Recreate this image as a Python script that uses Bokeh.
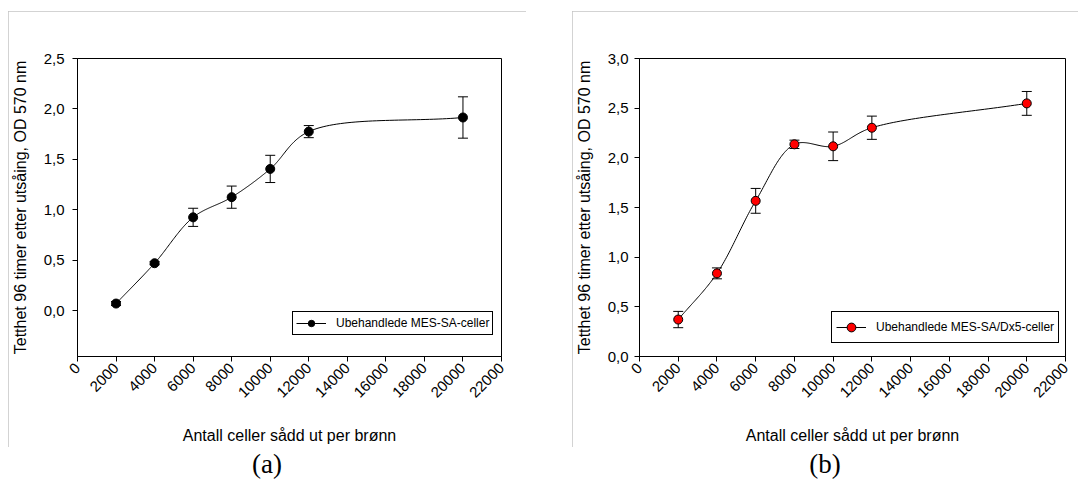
import math
import numpy as np
from bokeh.plotting import figure
from bokeh.models import (Range1d, FixedTicker, CustomJSTickFormatter, BasicTickFormatter,
                          ColumnDataSource, Whisker, TeeHead, Legend, LegendItem, Div)
from bokeh.layouts import row, column
from bokeh.embed import file_html
from bokeh.resources import INLINE

# ---------------- data ----------------
cells = [2000, 4000, 6000, 8000, 10000, 12000, 20000]
mes_sa = [0.07, 0.47, 0.925, 1.125, 1.405, 1.775, 1.915]
mes_sa_err = [0.02, 0.015, 0.09, 0.11, 0.135, 0.06, 0.205]
dx5 = [0.372, 0.837, 1.567, 2.136, 2.116, 2.303, 2.548]
dx5_err = [0.082, 0.055, 0.125, 0.042, 0.144, 0.117, 0.12]

x_ticks = list(range(0, 22001, 2000))
y_ticks_a = [0.0, 0.5, 1.0, 1.5, 2.0, 2.5]
y_ticks_b = [0.0, 0.5, 1.0, 1.5, 2.0, 2.5, 3.0]

label_a = "Ubehandlede MES-SA-celler"
label_b = "Ubehandlede MES-SA/Dx5-celler"
x_title = "Antall celler sådd ut per brønn"
y_title = "Tetthet 96 timer etter utsåing, OD 570 nm"

FONT = "Liberation Sans"


def catmull_rom(xs, ys, sx, sy, n=40, alpha=0.5):
    """Centripetal Catmull-Rom curve through the data points, computed in screen-like space."""
    P = np.column_stack([np.asarray(xs, float) * sx, np.asarray(ys, float) * sy])
    pts = np.vstack([2 * P[0] - P[1], P, 2 * P[-1] - P[-2]])
    out = []
    for i in range(len(pts) - 3):
        p0, p1, p2, p3 = pts[i], pts[i + 1], pts[i + 2], pts[i + 3]
        t0 = 0.0
        t1 = t0 + np.linalg.norm(p1 - p0) ** alpha
        t2 = t1 + np.linalg.norm(p2 - p1) ** alpha
        t3 = t2 + np.linalg.norm(p3 - p2) ** alpha
        t = np.linspace(t1, t2, n)[:, None]
        A1 = (t1 - t) / (t1 - t0) * p0 + (t - t0) / (t1 - t0) * p1
        A2 = (t2 - t) / (t2 - t1) * p1 + (t - t1) / (t2 - t1) * p2
        A3 = (t3 - t) / (t3 - t2) * p2 + (t - t2) / (t3 - t2) * p3
        B1 = (t2 - t) / (t2 - t0) * A1 + (t - t0) / (t2 - t0) * A2
        B2 = (t3 - t) / (t3 - t1) * A2 + (t - t1) / (t3 - t1) * A3
        C = (t2 - t) / (t2 - t1) * B1 + (t - t1) / (t2 - t1) * B2
        out.append(C if i == 0 else C[1:])
    C = np.vstack(out)
    return C[:, 0] / sx, C[:, 1] / sy


def make_panel(yvals, yerr, yticks, ymin, ymax, color, label, width, height,
               mb_left, mb_right, mb_top, mb_bottom, frame_w, frame_h,
               leg_loc, leg_pad, leg_gh, ytick_standoff, margin):
    p = figure(width=width, height=height, output_backend="svg", toolbar_location=None,
               x_range=Range1d(0, 22000), y_range=Range1d(ymin, ymax),
               min_border_left=mb_left, min_border_right=mb_right,
               min_border_top=mb_top, min_border_bottom=mb_bottom,
               background_fill_color="white", border_fill_color="white",
               margin=margin)
    p.styles = {"outline": "1px solid #c4c4c4", "outline-offset": "-1px"}
    p.grid.visible = False
    p.outline_line_color = "black"
    p.outline_line_width = 1
    p.outline_line_alpha = 1

    p.xaxis.ticker = FixedTicker(ticks=x_ticks)
    p.xaxis.formatter = BasicTickFormatter(use_scientific=False)
    p.xaxis.major_label_orientation = math.pi / 4
    p.yaxis.ticker = FixedTicker(ticks=yticks)
    p.yaxis.formatter = CustomJSTickFormatter(code="return tick.toFixed(1).replace('.', ',');")

    for ax in (p.xaxis[0], p.yaxis[0]):
        ax.axis_line_color = "black"
        ax.major_tick_line_color = "black"
        ax.major_tick_out = 5
        ax.major_tick_in = 0
        ax.minor_tick_line_color = None
        ax.major_label_text_font = FONT
        ax.major_label_text_font_size = "15px"
        ax.major_label_text_color = "black"
        ax.axis_label_text_font = FONT
        ax.axis_label_text_font_size = "16px"
        ax.axis_label_text_font_style = "normal"
        ax.axis_label_text_color = "black"
    p.xaxis.axis_label = x_title
    p.yaxis.axis_label = y_title
    p.xaxis.major_label_standoff = 4
    p.xaxis.axis_label_standoff = 22
    p.yaxis.major_label_standoff = ytick_standoff
    p.yaxis.axis_label_standoff = 12

    # smooth curve
    sx = frame_w / 22000.0
    sy = frame_h / (ymax - ymin)
    cx, cy = catmull_rom(cells, yvals, sx, sy)
    line_r = p.line(cx, cy, line_color="black", line_width=1)

    src = ColumnDataSource(dict(
        x=cells, y=yvals,
        upper=[v + e for v, e in zip(yvals, yerr)],
        lower=[v - e for v, e in zip(yvals, yerr)],
    ))
    w = Whisker(source=src, base="x", upper="upper", lower="lower", dimension="height",
                line_color="black", line_width=1,
                upper_head=TeeHead(size=10, line_color="black", line_width=1),
                lower_head=TeeHead(size=10, line_color="black", line_width=1))
    p.add_layout(w)
    sc = p.scatter("x", "y", source=src, marker="circle", size=9,
                   fill_color=color, line_color="black", line_width=1)

    leg = Legend(items=[LegendItem(label=label, renderers=[line_r, sc])],
                 location=leg_loc, padding=leg_pad, spacing=0, margin=0,
                 glyph_width=30, glyph_height=leg_gh, label_height=leg_gh,
                 label_standoff=10,
                 label_text_font=FONT, label_text_font_size="12px",
                 label_text_color="black",
                 border_line_color="black", border_line_width=1, border_line_alpha=1,
                 background_fill_color="white", background_fill_alpha=1)
    p.add_layout(leg, "center")
    return p


pa = make_panel(mes_sa, mes_sa_err, y_ticks_a, -0.455, 2.5, "black", label_a,
                width=518, height=436, mb_left=69, mb_right=25, mb_top=47, mb_bottom=90,
                frame_w=424, frame_h=299, leg_loc=(215, 21), leg_pad=3, leg_gh=16,
                ytick_standoff=8, margin=(11, 0, 0, 8))
pb = make_panel(dx5, dx5_err, y_ticks_b, 0.0, 3.0, "#ff0000", label_b,
                width=506, height=436, mb_left=67, mb_right=13, mb_top=45, mb_bottom=91,
                frame_w=426, frame_h=300, leg_loc=(192, 13), leg_pad=4, leg_gh=22,
                ytick_standoff=6, margin=(11, 0, 0, 46))

cap_style = ("text-align:center;font-family:'Liberation Serif','DejaVu Serif',serif;"
             "font-size:27px;line-height:27px;padding-top:4px;color:#000;")
da = Div(text=f'<div style="{cap_style}width:518px;">(a)</div>', width=518, height=30,
         margin=(0, 0, 0, 8))
db = Div(text=f'<div style="{cap_style}width:506px;">(b)</div>', width=506, height=30,
         margin=(0, 0, 0, 46))

layout = column(row(pa, pb, spacing=0), row(da, db, spacing=0), spacing=0)

with open("out.html", "w") as f:
    f.write(file_html(layout, INLINE))
